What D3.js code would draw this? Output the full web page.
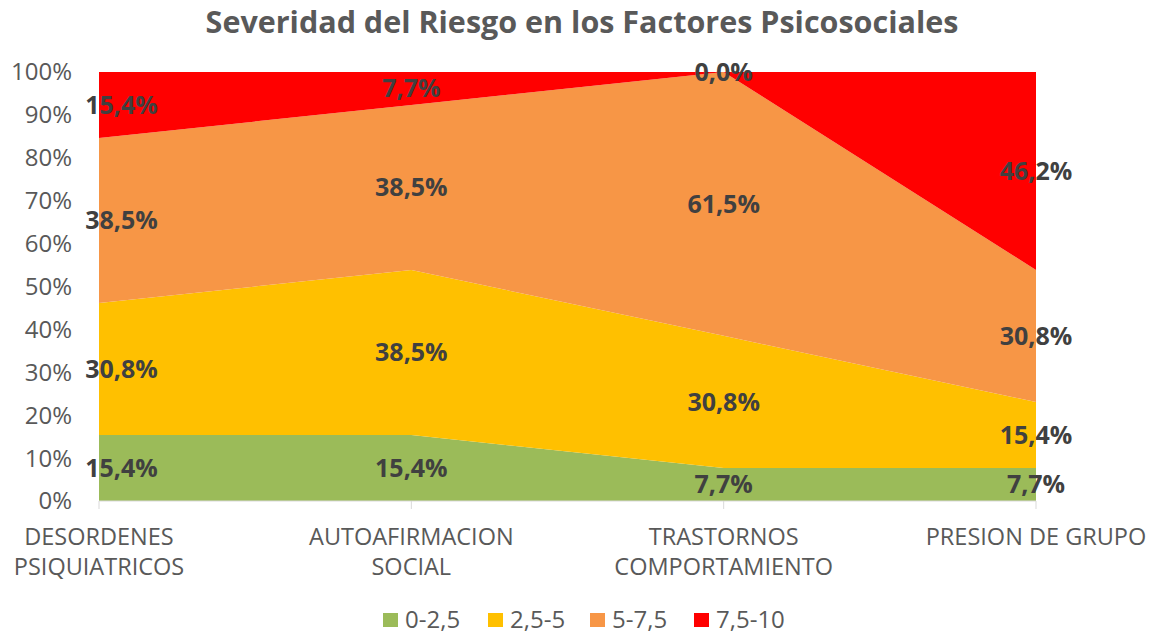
<!DOCTYPE html>
<html>
<head>
<meta charset="utf-8">
<script src="https://cdn.jsdelivr.net/npm/d3@7"></script>
<style>
  body { margin: 0; background: #fff; }
  text { font-family: "Open Sans", "Liberation Sans", sans-serif; }
</style>
</head>
<body>
<div id="chart"></div>
<script>
var width = 1165;
var height = 635;

var categories = [["DESORDENES", "PSIQUIATRICOS"], ["AUTOAFIRMACION", "SOCIAL"], ["TRASTORNOS", "COMPORTAMIENTO"], ["PRESION DE GRUPO"]];
var seriesNames = ["0-2,5", "2,5-5", "5-7,5", "7,5-10"];
var seriesColors = ["#9BBB59", "#FFC000", "#F79646", "#FF0000"];
// porcentajes por categoria
var s0 = [15.4, 15.4, 7.7, 7.7];
var s1 = [30.8, 38.5, 30.8, 15.4];
var s2 = [38.5, 38.5, 61.5, 30.8];
var s3 = [15.4, 7.7, 0.0, 46.2];
var yTicks = [0, 10, 20, 30, 40, 50, 60, 70, 80, 90, 100];

var rows = categories.map(function(c, i) {
    return { i: i, "0-2,5": s0[i], "2,5-5": s1[i], "5-7,5": s2[i], "7,5-10": s3[i] };
});

var stack = d3.stack().keys(seriesNames).offset(d3.stackOffsetExpand);
var layers = stack(rows);

var svg = d3.select("#chart").append("svg")
    .attr("width", width)
    .attr("height", height);

var x = d3.scaleLinear().domain([0, categories.length - 1]).range([99, 1036]);
var y = d3.scaleLinear().domain([0, 1]).range([501, 72]);

svg.append("text") // titulo
    .attr("x", 582)
    .attr("y", 33)
    .attr("text-anchor", "middle")
    .attr("fill", "#595959")
    .style("font-size", "30.5px")
    .style("font-weight", "bold")
    .text("Severidad del Riesgo en los Factores Psicosociales");

var area = d3.area()
    .x(function(d) { return x(d.data.i); })
    .y0(function(d) { return y(d[0]); })
    .y1(function(d) { return y(d[1]); });

svg.append("g").selectAll("path")
    .data(layers)
    .enter().append("path")
    .attr("d", area)
    .attr("fill", function(d, i) { return seriesColors[i]; });

// eje Y
svg.append("g").selectAll("text")
    .data(yTicks)
    .enter().append("text")
    .attr("x", 72)
    .attr("y", function(d) { return y(d / 100); })
    .attr("dy", "0.35em")
    .attr("text-anchor", "end")
    .attr("fill", "#595959")
    .style("font-size", "24px")
    .text(function(d) { return d + "%"; });

// eje X
svg.append("line")
    .attr("x1", x(0)).attr("x2", x(categories.length - 1))
    .attr("y1", y(0)).attr("y2", y(0))
    .attr("stroke", "#D9D9D9").attr("stroke-width", 1);

svg.append("g").selectAll("line")
    .data(categories)
    .enter().append("line")
    .attr("x1", function(d, i) { return x(i); })
    .attr("x2", function(d, i) { return x(i); })
    .attr("y1", y(0)).attr("y2", y(0) + 8)
    .attr("stroke", "#D9D9D9");

var catLabel = svg.append("g").selectAll("text")
    .data(categories)
    .enter().append("text")
    .attr("x", function(d, i) { return x(i); })
    .attr("y", 545)
    .attr("text-anchor", "middle")
    .attr("fill", "#595959")
    .style("font-size", "23.5px");

catLabel.selectAll("tspan")
    .data(function(d) { return d; })
    .enter().append("tspan")
    .attr("x", function() { return d3.select(this.parentNode).attr("x"); })
    .attr("dy", function(d, i) { return i === 0 ? 0 : 30; })
    .text(function(d) { return d; });

// etiquetas de datos
var labels = [];
layers.forEach(function(layer, k) {
    layer.forEach(function(d, i) {
        labels.push({ i: i, mid: (d[0] + d[1]) / 2, v: d.data[seriesNames[k]] });
    });
});

svg.append("g").selectAll("text")
    .data(labels)
    .enter().append("text")
    .attr("x", function(d) { return Math.max(x(d.i), 121.5); })
    .attr("y", function(d) { return y(d.mid); })
    .attr("dy", "0.35em")
    .attr("text-anchor", "middle")
    .attr("fill", "#404040")
    .style("font-size", "25px")
    .style("font-weight", "bold")
    .text(function(d) { return d.v.toFixed(1).replace(".", ",") + "%"; });

// leyenda
var legendX = [383, 488, 590, 694];
var legend = svg.append("g").selectAll("g")
    .data(seriesNames)
    .enter().append("g")
    .attr("transform", function(d, i) { return "translate(" + legendX[i] + ",613)"; });

legend.append("rect")
    .attr("width", 15).attr("height", 14)
    .attr("fill", function(d, i) { return seriesColors[i]; });

legend.append("text")
    .attr("x", 22)
    .attr("y", 7)
    .attr("dy", "0.35em")
    .attr("fill", "#595959")
    .style("font-size", "24px")
    .text(function(d) { return d; });
</script>
</body>
</html>
